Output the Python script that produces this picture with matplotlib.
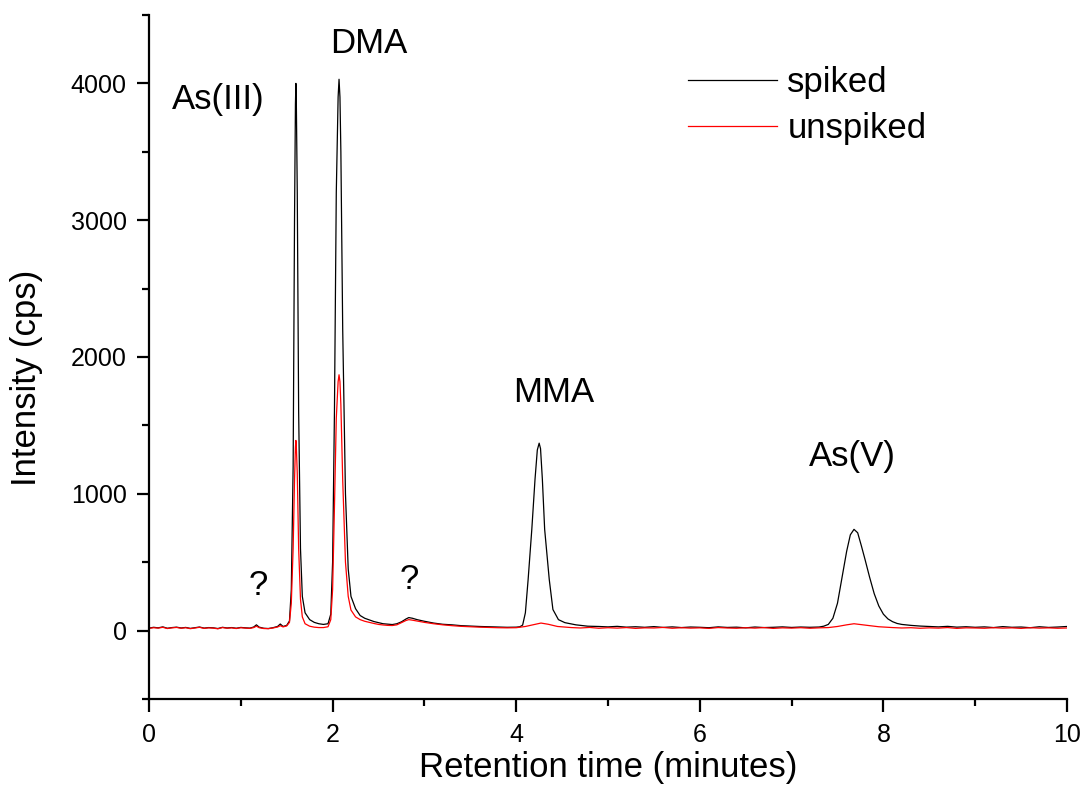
import matplotlib
matplotlib.use('Agg')
import matplotlib.pyplot as plt
from matplotlib.ticker import MultipleLocator

plt.rcParams['font.family'] = ['Liberation Sans', 'DejaVu Sans']

# spiked sample (time in minutes, intensity in cps)
t_spiked = [0.00, 0.05, 0.10, 0.15, 0.20, 0.25, 0.30, 0.35, 0.40, 0.45, 0.50, 0.55, 0.60, 0.65,
            0.70, 0.75, 0.80, 0.85, 0.90, 0.95, 1.00, 1.05, 1.10, 1.14, 1.17, 1.20, 1.25, 1.30,
            1.35, 1.40, 1.43, 1.46, 1.50, 1.53, 1.55, 1.57, 1.585, 1.595, 1.60, 1.605, 1.615, 1.63,
            1.65, 1.67, 1.70, 1.75, 1.80, 1.85, 1.90, 1.95, 1.98, 2.00, 2.02, 2.04, 2.06, 2.07,
            2.08, 2.09, 2.11, 2.14, 2.17, 2.20, 2.25, 2.30, 2.35, 2.40, 2.45, 2.50, 2.55, 2.60,
            2.65, 2.70, 2.75, 2.80, 2.83, 2.87, 2.92, 3.00, 3.10, 3.20, 3.30, 3.40, 3.50, 3.60,
            3.70, 3.80, 3.90, 4.00, 4.04, 4.07, 4.10, 4.13, 4.17, 4.205, 4.23, 4.25, 4.265, 4.285,
            4.31, 4.36, 4.40, 4.46, 4.53, 4.65, 4.78, 4.90, 5.00, 5.10, 5.20, 5.30, 5.40, 5.50,
            5.60, 5.70, 5.80, 5.90, 6.00, 6.10, 6.20, 6.30, 6.40, 6.50, 6.60, 6.70, 6.80, 6.90,
            7.00, 7.10, 7.20, 7.30, 7.35, 7.40, 7.45, 7.50, 7.55, 7.60, 7.64, 7.68, 7.72, 7.76,
            7.80, 7.85, 7.90, 7.95, 8.00, 8.05, 8.10, 8.15, 8.20, 8.30, 8.40, 8.50, 8.60, 8.70,
            8.80, 8.90, 9.00, 9.10, 9.20, 9.30, 9.40, 9.50, 9.60, 9.70, 9.80, 9.90, 10.00]
i_spiked = [18, 24, 20, 27, 17, 22, 25, 19, 23, 16, 21, 26, 18, 22,
            20, 15, 24, 19, 22, 17, 23, 20, 18, 26, 42, 25, 17, 15,
            21, 30, 48, 30, 38, 70, 300, 1200, 3000, 3850, 4000, 3850, 3200, 1600,
            600, 250, 130, 80, 60, 50, 45, 50, 120, 500, 1600, 3200, 3900, 4030,
            3900, 3500, 2200, 1000, 450, 250, 160, 110, 90, 78, 66, 58, 50, 47,
            44, 50, 64, 85, 95, 90, 80, 68, 55, 46, 42, 36, 33, 30,
            28, 26, 24, 25, 28, 40, 130, 374, 740, 1106, 1320, 1370, 1330, 1106,
            740, 374, 154, 80, 58, 42, 32, 30, 27, 31, 25, 28, 24, 29,
            23, 27, 22, 26, 24, 21, 27, 23, 25, 20, 26, 22, 24, 27,
            23, 26, 24, 26, 32, 45, 90, 200, 390, 580, 700, 740, 715, 620,
            520, 390, 270, 180, 120, 85, 65, 52, 45, 38, 33, 30, 27, 31,
            25, 28, 24, 27, 22, 29, 24, 26, 21, 28, 23, 26, 30]

# unspiked sample
t_unspiked = [0.00, 0.05, 0.10, 0.15, 0.20, 0.25, 0.30, 0.35, 0.40, 0.45, 0.50, 0.55, 0.60, 0.65,
              0.70, 0.75, 0.80, 0.85, 0.90, 0.95, 1.00, 1.05, 1.10, 1.14, 1.17, 1.20, 1.25, 1.30,
              1.35, 1.40, 1.43, 1.46, 1.50, 1.53, 1.55, 1.57, 1.585, 1.595, 1.60, 1.605, 1.615, 1.63,
              1.65, 1.67, 1.70, 1.75, 1.80, 1.85, 1.90, 1.95, 1.98, 2.00, 2.02, 2.04, 2.06, 2.07,
              2.08, 2.09, 2.11, 2.14, 2.17, 2.20, 2.25, 2.30, 2.35, 2.40, 2.45, 2.50, 2.55, 2.60,
              2.65, 2.70, 2.75, 2.80, 2.83, 2.87, 2.92, 3.00, 3.10, 3.20, 3.30, 3.40, 3.50, 3.60,
              3.70, 3.80, 3.90, 4.00, 4.10, 4.20, 4.27, 4.35, 4.45, 4.60, 4.70, 4.80, 4.90, 5.00,
              5.10, 5.20, 5.30, 5.40, 5.50, 5.60, 5.70, 5.80, 5.90, 6.00, 6.10, 6.20, 6.30, 6.40,
              6.50, 6.60, 6.70, 6.80, 6.90, 7.00, 7.10, 7.20, 7.30, 7.40, 7.50, 7.60, 7.68, 7.75,
              7.85, 7.95, 8.10, 8.20, 8.30, 8.40, 8.50, 8.60, 8.70, 8.80, 8.90, 9.00, 9.10, 9.20,
              9.30, 9.40, 9.50, 9.60, 9.70, 9.80, 9.90, 10.00]
i_unspiked = [16, 21, 18, 24, 15, 20, 23, 17, 21, 14, 19, 24, 16, 20,
              18, 13, 22, 17, 20, 15, 21, 18, 16, 22, 32, 21, 15, 14,
              19, 26, 36, 27, 34, 60, 200, 600, 1100, 1340, 1390, 1340, 1150, 600,
              230, 100, 50, 32, 25, 22, 22, 28, 80, 300, 900, 1550, 1820, 1870,
              1820, 1650, 1100, 500, 250, 150, 100, 80, 68, 60, 52, 45, 41, 38,
              37, 42, 58, 74, 80, 76, 70, 60, 50, 42, 36, 31, 28, 25,
              23, 21, 20, 21, 30, 45, 55, 46, 30, 22, 19, 23, 17, 21,
              18, 22, 16, 20, 19, 23, 17, 21, 18, 20, 16, 22, 19, 17,
              21, 18, 22, 16, 20, 18, 21, 17, 20, 22, 30, 42, 50, 44,
              36, 28, 22, 19, 21, 17, 20, 18, 22, 16, 20, 19, 17, 21,
              18, 20, 16, 21, 18, 20, 17, 19]

# peak labels
peak_names = ['As(III)', 'DMA', 'MMA', 'As(V)', '?', '?']
peak_x = [0.75, 2.39, 4.41, 7.66, 1.19, 2.83]
peak_y = [3880, 4290, 1740, 1270, 330, 375]

fig = plt.figure(figsize=(10.83, 8.05), dpi=100)
ax = fig.add_axes([0.1376, 0.1317, 0.8476, 0.8497])

ax.plot(t_spiked, i_spiked, color='black', lw=0.9, label='spiked')
ax.plot(t_unspiked, i_unspiked, color='red', lw=0.9, label='unspiked')

for name, x, y in zip(peak_names, peak_x, peak_y):
    ax.text(x, y, name, fontsize=25, ha='center', va='center')

ax.set_xlim(0, 10)
ax.set_ylim(-500, 4500)
ax.xaxis.set_major_locator(MultipleLocator(2))
ax.xaxis.set_minor_locator(MultipleLocator(1))
ax.yaxis.set_major_locator(MultipleLocator(1000))
ax.yaxis.set_minor_locator(MultipleLocator(500))

for s in ['top', 'right']:
    ax.spines[s].set_visible(False)
for s in ['left', 'bottom']:
    ax.spines[s].set_linewidth(1.6)

ax.tick_params(which='major', direction='out', length=9, width=1.6, labelsize=18, pad=7)
ax.tick_params(axis='x', which='major', pad=8)
ax.tick_params(which='minor', direction='out', length=5, width=1.6)

ax.set_xlabel('Retention time (minutes)', fontsize=25, labelpad=3)
ax.set_ylabel('Intensity (cps)', fontsize=25)
ax.yaxis.set_label_coords(-0.115, 0.47)

ax.legend(loc='upper left', bbox_to_anchor=(0.568, 0.951), frameon=False, fontsize=25,
          handlelength=2.58, handletextpad=0.29, labelspacing=0.38, borderpad=0)

fig.savefig('out.png', dpi=100)
